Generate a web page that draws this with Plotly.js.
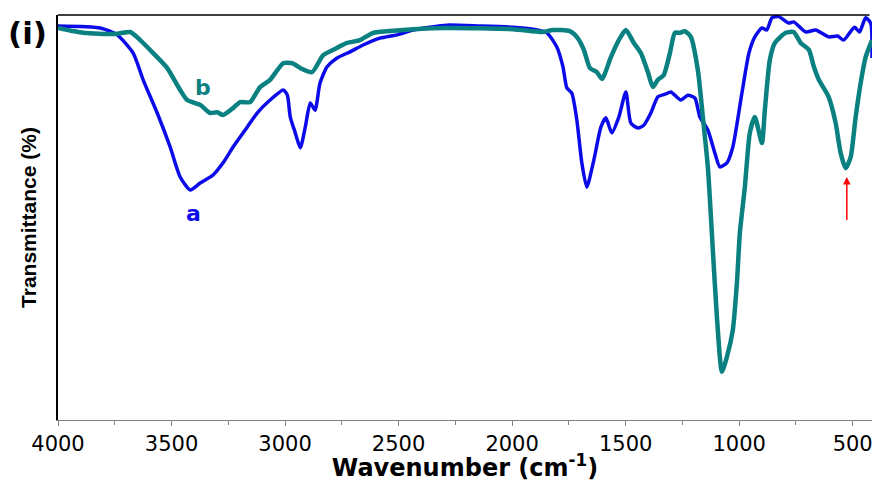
<!DOCTYPE html>
<html>
<head>
<meta charset="utf-8">
<script src="https://cdn.plot.ly/plotly-3.0.1.min.js"></script>
<style>html,body{margin:0;padding:0;background:#fff;}#chart{width:875px;height:482px;}</style>
</head>
<body>
<div id="chart"></div>
<script>
// Sample a (blue)
const waveA = [4000,3814,3739,3669,3625,3563,3506,3462,3418,3374,3317,3273,3229,3167,3123,3066,3008,2990,2977,2955,2933,2911,2889,2868,2846,2815,2771,2714,2656,2582,2507,2436,2362,2287,2142,1997,1908,1847,1803,1776,1759,1737,1715,1693,1671,1640,1609,1587,1561,1530,1499,1477,1446,1420,1389,1358,1323,1301,1257,1226,1195,1173,1138,1107,1085,1054,1028,988,957,931,900,878,856,826,782,760,707,663,606,566,540,492,470,443,421,415];
const transA = [97.3,96.8,95.1,90.6,84.0,75.8,67.4,60.0,56.8,58.5,60.5,63.5,67.4,72.3,75.8,79.0,81.5,80.2,74.8,70.9,67.2,72.3,78.3,76.5,83.2,87.2,89.4,90.9,92.6,94.3,95.1,96.3,97.0,97.5,97.3,97.0,96.5,95.6,92.1,87.2,82.0,80.7,74.1,63.5,57.5,64.2,72.3,74.6,70.9,74.8,81.0,73.3,72.1,72.8,75.8,79.8,80.5,81.0,79.0,80.2,79.5,74.8,71.6,65.9,62.5,63.5,67.4,80.7,90.6,94.6,96.8,96.3,99.3,99.6,98.0,98.3,95.8,96.3,94.6,94.8,93.8,97.0,95.8,99.3,98.0,89.4];
// Sample b (teal)
const waveB = [4000,3889,3748,3682,3638,3581,3519,3462,3431,3374,3330,3299,3273,3229,3198,3154,3110,3066,3008,2969,2933,2881,2832,2788,2727,2670,2612,2551,2436,2287,1997,1865,1821,1746,1711,1684,1657,1627,1604,1565,1530,1499,1464,1433,1402,1380,1358,1332,1305,1283,1261,1239,1213,1182,1160,1138,1116,1098,1076,1054,1028,1010,997,975,953,931,900,887,865,843,795,760,729,693,671,649,606,575,553,531,509,487,465,443,415];
const transB = [96.8,95.6,95.3,95.8,93.8,90.6,86.9,81.5,79.0,77.8,75.8,76.0,75.3,77.0,78.5,78.5,82.2,84.0,88.1,88.1,86.9,85.9,90.1,91.4,93.1,93.8,95.6,96.0,96.5,96.8,96.5,95.8,96.3,96.0,94.3,91.4,86.9,85.9,84.2,89.6,93.8,96.3,93.1,90.6,85.9,82.2,84.0,85.2,90.6,95.6,95.6,96.0,94.6,86.4,74.8,62.5,42.0,25.4,11.9,15.6,22.2,33.8,46.2,57.5,70.9,74.8,68.4,76.5,88.9,93.1,95.6,95.8,93.1,91.4,87.2,84.0,79.8,73.3,65.9,62.2,64.9,74.8,83.2,89.6,93.8];
const tickVals = [4000,3500,3000,2500,2000,1500,1000,500];
const tickText = ["4000","3500","3000","2500","2000","1500","1000","500"];

const traces = [
  {x: waveA, y: transA, type: 'scatter', mode: 'lines', name: 'a',
   line: {color: '#0b0bea', width: 3.5, shape: 'spline', smoothing: 0.6}},
  {x: waveB, y: transB, type: 'scatter', mode: 'lines', name: 'b',
   line: {color: '#0a8080', width: 4.5, shape: 'spline', smoothing: 0.6}}
];

const layout = {
  width: 875, height: 482,
  margin: {l: 58, r: 3, t: 15, b: 62},
  paper_bgcolor: '#ffffff', plot_bgcolor: '#ffffff',
  showlegend: false,
  xaxis: {
    range: [4000, 415], showgrid: false, zeroline: false,
    showline: true, linecolor: '#808080', linewidth: 1,
    ticks: 'outside', ticklen: 5, tickcolor: '#808080', tickwidth: 1,
    tickvals: tickVals, ticktext: tickText,
    minor: {dtick: 250, tick0: 4000, ticks: 'outside', ticklen: 4, tickcolor: '#808080'},
    tickfont: {family: 'DejaVu Sans', size: 21, color: '#000'},
    title: {text: '<b>Wavenumber (cm<sup>-1</sup>)</b>', font: {family: 'DejaVu Sans', size: 24, color: '#000'}, standoff: 4}
  },
  yaxis: {
    range: [0, 100], showgrid: false, zeroline: false,
    showline: true, linecolor: '#000', linewidth: 2,
    ticks: '', showticklabels: false,
    title: {text: '<b>Transmittance (%)</b>', font: {family: 'Liberation Sans', size: 21, color: '#000'}, standoff: 14}
  },
  shapes: [
    {type: 'line', xref: 'paper', yref: 'paper', x0: 0, x1: 0.997, y0: 1, y1: 1, line: {color: '#000', width: 1.5}}
  ],
  annotations: [
    {text: '<b>(i)</b>', xref: 'paper', yref: 'paper', x: -0.038, y: 0.955, xanchor: 'center', yanchor: 'middle', showarrow: false,
     font: {family: 'DejaVu Sans', size: 31, color: '#000'}},
    {text: '<b>b</b>', xref: 'x', yref: 'y', x: 3361, y: 82, xanchor: 'center', yanchor: 'middle', showarrow: false,
     font: {family: 'DejaVu Sans', size: 22, color: '#0a8080'}},
    {text: '<b>a</b>', xref: 'x', yref: 'y', x: 3404, y: 51, xanchor: 'center', yanchor: 'middle', showarrow: false,
     font: {family: 'DejaVu Sans', size: 22, color: '#0b0bea'}},
    {text: '', xref: 'x', yref: 'y', x: 526, y: 60, axref: 'x', ayref: 'y', ax: 526, ay: 49,
     showarrow: true, arrowhead: 2, arrowsize: 1, arrowwidth: 1.5, arrowcolor: '#ff0000'}
  ]
};

Plotly.newPlot('chart', traces, layout, {displayModeBar: false, staticPlot: true});
</script>
</body>
</html>
